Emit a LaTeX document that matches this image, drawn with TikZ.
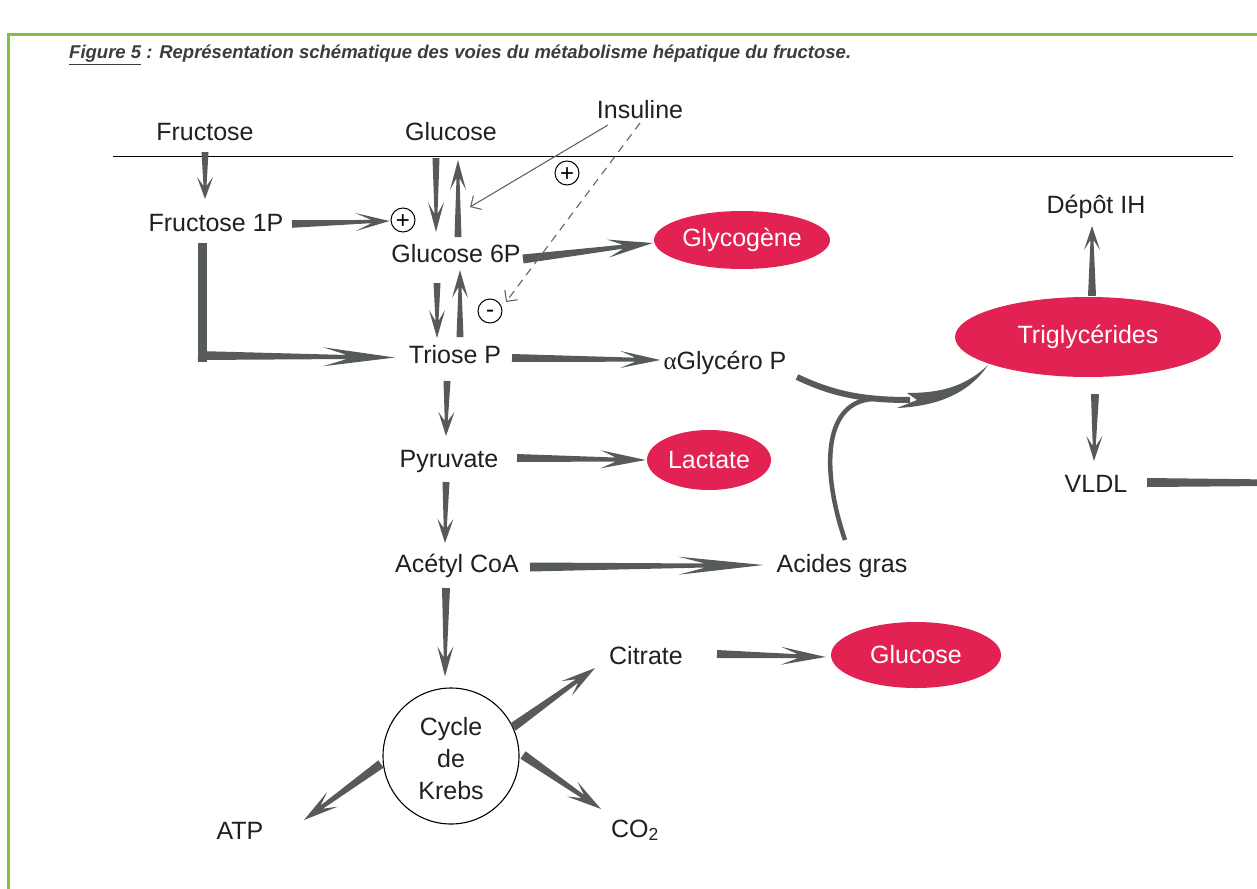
\documentclass[tikz,border=0pt]{standalone}
\usepackage{fontspec}
\setmainfont{Liberation Sans}
\newfontfamily\serifa{Liberation Serif}
\usetikzlibrary{calc,shapes.geometric,arrows.meta}
\definecolor{arrgray}{RGB}{86,91,89}
\definecolor{redfill}{RGB}{226,34,82}
\definecolor{framegreen}{RGB}{125,194,67}
\definecolor{txtcol}{RGB}{35,31,32}
\definecolor{titlegray}{RGB}{60,60,60}
\definecolor{insgray}{RGB}{100,100,100}
\pgfkeys{/ta/.cd, w/.store in=\taW, n/.store in=\taN, h/.store in=\taH, k/.store in=\taK, b/.store in=\taB}
\newcommand\tarr[3][]{%
 \pgfkeys{/ta/.cd,w=3.5pt,n=1.5pt,h=28pt,k=17pt,b=8pt,#1}%
 \coordinate (ta) at #2; \coordinate (tb) at #3;
 \coordinate (tn) at ($(tb)!\taK!(ta)$);
 \coordinate (th) at ($(tb)!\taH!(ta)$);
 \fill[arrgray] ($(ta)!\taW!90:(tb)$) -- ($(tn)!\taN!90:(tb)$) -- ($(th)!\taB!90:(tb)$) -- (tb) -- ($(th)!\taB!-90:(tb)$) -- ($(tn)!\taN!-90:(tb)$) -- ($(ta)!\taW!-90:(tb)$) -- cycle;}
\tikzset{
 txt/.style={inner sep=0pt, text=txtcol, font=\fontsize{25}{30}\selectfont, text height=18pt, text depth=0pt},
 redel/.style={ellipse, fill=redfill, inner sep=0pt, text=white, font=\fontsize{25}{30}\selectfont},
 pm/.style={circle, draw=black, line width=1pt, minimum size=24pt, inner sep=0pt, font=\fontsize{24}{26}\selectfont, text height=16.8pt, text depth=0pt},
 insline/.style={draw=insgray, line width=1.1pt, -{Straight Barb[length=8pt,width=16pt,line width=1.1pt]}}
}
\begin{document}
\begin{tikzpicture}[x=1pt,y=-1pt]
\useasboundingbox (0,0) rectangle (1257,888);
\clip (0,0) rectangle (1257,888);
\fill[white] (0,0) rectangle (1257,888);
% frame
\draw[framegreen, line width=3pt] (8,900) -- (8,35) -- (1270,35);
% title
\node[anchor=west, inner sep=0pt, text=titlegray, font=\bfseries\itshape\fontsize{18.5}{21}\selectfont] (title) at (69,55) {\underline{Figure 5} : Représentation schématique des voies du métabolisme hépatique du fructose.};
% membrane line
\draw[line width=0.9pt, black] (113,156) -- (1233,156);
% nodes
\node[txt] (fru) at (205,131) {Fructose};
\node[txt] (glu) at (451,131) {Glucose};
\node[txt] (ins) at (640,110) {Insuline};
\node[txt] (f1p) at (216,222) {Fructose 1P};
\node[pm] (p1) at (403,220) {+};
\node[txt] (g6p) at (456,253) {Glucose 6P};
\node[redel, minimum width=176pt, minimum height=58pt] (gly) at (742,240) {Glycogène};
\node[pm] (p2) at (567,173) {+};
\node[pm, text height=13pt] (m1) at (490,311) {-};
\node[txt] (tri) at (455,354) {Triose P};
\node[txt] (agp) at (725,360) {{\serifa α}Glycéro P};
\node[redel, minimum width=266pt, minimum height=80pt] (tg) at (1088,337) {Triglycérides};
\node[txt] (dep) at (1096,204) {Dépôt IH};
\node[txt] (pyr) at (449,458) {Pyruvate};
\node[redel, minimum width=124pt, minimum height=60pt] (lac) at (709,460) {Lactate};
\node[txt] (vldl) at (1096,483) {VLDL};
\node[txt] (aco) at (457,563) {Acétyl CoA};
\node[txt] (ag) at (842,563) {Acides gras};
\node[txt] (cit) at (646,655) {Citrate};
\node[redel, minimum width=170pt, minimum height=66pt] (glc2) at (916,655) {Glucose};
\node[circle, draw=black, line width=1.1pt, minimum size=136pt, inner sep=0pt] (kr) at (451,756) {};
\node[inner sep=0pt, text=txtcol, align=center, font=\fontsize{25}{32}\selectfont] (krt) at (451,759) {Cycle\\de\\Krebs};
\node[txt] (atp) at (240,830) {ATP};
\node[txt] (co2) at (635,828) {CO\textsubscript{2}};
% arrows
\tarr[h=22pt,k=13pt]{($(fru)+(0,21)$)}{($(fru)+(0,68)$)}
\tarr[w=3.8pt,n=1.6pt,h=34pt,k=18pt,b=9pt]{($(f1p)+(76,2)$)}{($(p1.west)+(-1,1)$)}
\tarr[h=30pt,k=18pt]{($(glu)+(-15,27)$)}{($(g6p)+(-20,-21)$)}
\tarr[h=30pt,k=18pt]{($(g6p)+(2,-16)$)}{($(glu)+(7,29)$)}
\tarr[h=28pt,k=17pt]{($(g6p)+(-19,30)$)}{($(tri)+(-18,-16)$)}
\tarr[h=28pt,k=17pt]{($(tri)+(5,-17)$)}{($(g6p)+(4,17)$)}
% L-shaped arrow Fructose 1P -> Triose P
\fill[arrgray] ($(f1p)+(-18.5,21)$) rectangle ($(f1p)+(-9.5,140)$);
\tarr[w=4.5pt,n=2pt,h=72pt,k=48pt,b=9.5pt]{($(f1p)+(-18,133.5)$)}{($(tri)+(-60,3.5)$)}
\tarr[w=4.5pt,n=2pt,h=45pt,k=30pt,b=9pt]{($(g6p)+(67,6)$)}{($(gly.west)+(-1,3)$)}
\tarr[w=4pt,n=2pt,h=40pt,k=25pt,b=8.5pt]{($(tri)+(57,4)$)}{($(agp.west)+(-3,0)$)}
\tarr[h=24pt,k=15pt]{($(tri)+(-8,27)$)}{($(pyr)+(-3,-22)$)}
\tarr[w=4pt,n=2pt,h=45pt,k=30pt,b=9pt]{($(pyr)+(68,0)$)}{($(lac.west)+(-1,0)$)}
\tarr[h=24pt,k=15pt]{($(pyr)+(-3,24)$)}{($(aco)+(-12,-20)$)}
\tarr[w=4.5pt,n=2pt,h=85pt,k=58pt,b=9pt]{($(aco)+(73,4)$)}{($(ag.west)+(-13,2)$)}
\tarr[w=4pt,n=1.5pt,h=30pt,k=19pt]{($(aco)+(-11,25)$)}{($(kr.north)+(-6,-11)$)}
\tarr[w=4.5pt,n=2pt,h=35pt,k=22pt,b=9pt]{($(kr)+(62,-29)$)}{($(cit)+(-51,13)$)}
\tarr[w=4.5pt,n=2pt,h=35pt,k=22pt,b=9pt]{($(kr)+(72,-1)$)}{($(co2)+(-34,-19)$)}
\tarr[w=4.5pt,n=2pt,h=35pt,k=22pt,b=9pt]{($(kr)+(-70,8)$)}{($(atp)+(64,-10)$)}
\tarr[w=4pt,n=2pt,h=45pt,k=28pt,b=9pt]{($(cit)+(71,-1)$)}{($(glc2.west)+(-5,2)$)}
\tarr[w=4pt,n=1.5pt,h=24pt,k=14pt]{($(tg.north)+(4,-1)$)}{($(dep)+(-4,22)$)}
\tarr[w=4pt,n=1.5pt,h=25pt,k=15pt]{($(tg.south)+(7,17)$)}{($(vldl)+(-2,-22)$)}
% VLDL outgoing bar
\fill[arrgray] ($(vldl)+(51,-5)$) -- ($(vldl)+(175,-3.5)$) -- ($(vldl)+(175,3)$) -- ($(vldl)+(51,4)$) -- cycle;
% insulin arrows
\coordinate (insA) at ($(ins)+(-32,15)$);
\coordinate (insB) at ($(ins)+(0,13)$);
\draw[insline] (insA) -- ($(g6p)+(14,-46)$);
\draw[insline, dash pattern=on 8pt off 6pt] (insB) -- ($(m1)+(16,-9)$);
% curved arrow to triglycerides
\draw[arrgray, line width=6pt] ($(agp)+(72,17)$) .. controls ($(agp)+(110,35)$) and ($(agp)+(140,40)$) .. ($(agp)+(185,40)$);
\draw[arrgray, line width=4.5pt] ($(ag)+(3,-23)$) .. controls ($(ag)+(-20,-90)$) and ($(ag)+(-20,-160)$) .. ($(ag)+(30,-164)$);
\fill[arrgray] ($(agp)+(172,48)$) .. controls ($(agp)+(215,46)$) and ($(agp)+(245,32)$) .. ($(tg)+(-100,28)$)
  .. controls ($(agp)+(240,27)$) and ($(agp)+(215,33)$) .. ($(agp)+(182,33)$) -- ($(agp)+(192,40)$) -- cycle;
\end{tikzpicture}
\end{document}
